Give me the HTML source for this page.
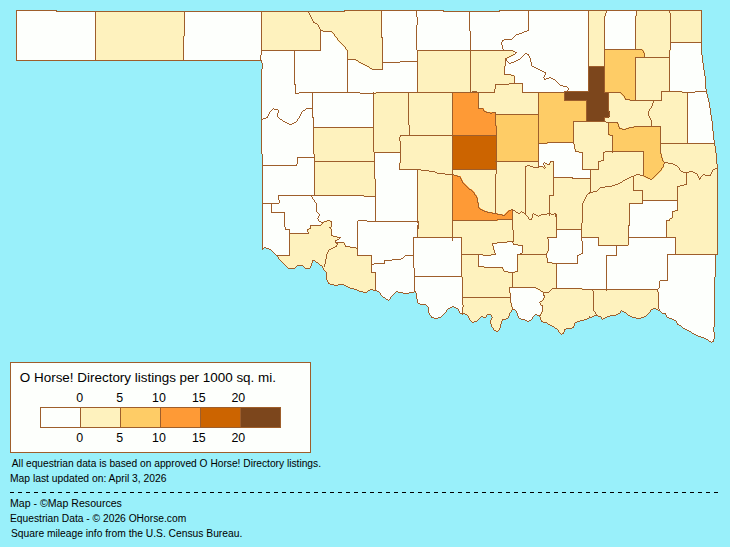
<!DOCTYPE html>
<html><head><meta charset="utf-8"><title>Oklahoma - O Horse! Directory listings</title><style>
html,body{margin:0;padding:0;background:#99F0FA;width:730px;height:547px;overflow:hidden}
svg{display:block;font-family:"Liberation Sans",sans-serif}
</style></head><body>
<svg width="730" height="547" viewBox="0 0 730 547">
<g shape-rendering="crispEdges"><path fill="#FDFFFC" d="M16 10h41v1h-41zM344 10h100v1h-100zM499 10h203v1h-203zM16 11h686v44h-686zM16 55h687v6h-687zM261 61h442v2h-442zM262 63h442v6h-442zM261 69h443v1h-443zM261 70h444v6h-444zM261 76h445v13h-445zM261 89h446v5h-446zM261 94h447v4h-447zM261 98h448v4h-448zM261 102h449v6h-449zM261 108h450v7h-450zM261 115h451v6h-451zM261 121h452v10h-452zM261 131h453v9h-453zM261 140h454v6h-454zM261 146h455v7h-455zM261 153h456v1h-456zM262 154h455v10h-455zM262 164h456v84h-456zM262 248h2v1h-2zM266 248h452v1h-452zM262 249h1v1h-1zM269 249h449v1h-449zM271 250h447v1h-447zM272 251h446v1h-446zM273 252h445v1h-445zM274 253h444v1h-444zM275 254h443v1h-443zM276 255h440v1h-440zM277 256h439v1h-439zM278 257h438v2h-438zM279 259h437v1h-437zM280 260h436v1h-436zM281 261h32v1h-32zM315 261h401v1h-401zM282 262h31v1h-31zM316 262h400v1h-400zM283 263h29v1h-29zM318 263h398v1h-398zM284 264h28v1h-28zM319 264h397v1h-397zM285 265h27v1h-27zM320 265h396v1h-396zM286 266h11v1h-11zM303 266h8v1h-8zM322 266h394v2h-394zM287 267h9v1h-9zM304 267h7v1h-7zM288 268h7v1h-7zM305 268h5v1h-5zM323 268h393v2h-393zM324 270h392v1h-392zM325 271h391v1h-391zM326 272h390v5h-390zM326 277h389v3h-389zM327 280h388v2h-388zM328 282h387v2h-387zM330 284h385v1h-385zM334 285h4v1h-4zM344 285h371v1h-371zM346 286h369v1h-369zM348 287h367v1h-367zM350 288h365v1h-365zM354 289h361v1h-361zM357 290h13v1h-13zM373 290h342v1h-342zM359 291h9v1h-9zM377 291h338v1h-338zM363 292h4v1h-4zM379 292h17v1h-17zM398 292h16v1h-16zM415 292h300v1h-300zM380 293h15v1h-15zM403 293h6v1h-6zM416 293h299v6h-299zM380 294h14v1h-14zM381 295h12v1h-12zM382 296h10v1h-10zM383 297h8v1h-8zM385 298h6v1h-6zM386 299h4v1h-4zM417 299h298v4h-298zM388 300h1v1h-1zM418 303h297v1h-297zM420 304h295v1h-295zM426 305h289v1h-289zM427 306h288v1h-288zM428 307h24v1h-24zM454 307h261v1h-261zM428 308h22v1h-22zM456 308h259v1h-259zM428 309h20v1h-20zM458 309h195v1h-195zM656 309h59v1h-59zM428 310h19v2h-19zM458 310h54v1h-54zM515 310h136v1h-136zM658 310h57v1h-57zM459 311h53v1h-53zM516 311h105v2h-105zM622 311h29v1h-29zM660 311h55v1h-55zM428 312h18v1h-18zM459 312h52v1h-52zM624 312h26v1h-26zM661 312h54v1h-54zM429 313h16v1h-16zM460 313h50v1h-50zM517 313h103v1h-103zM626 313h23v1h-23zM662 313h53v1h-53zM429 314h15v1h-15zM462 314h1v1h-1zM465 314h45v1h-45zM517 314h101v1h-101zM627 314h21v1h-21zM665 314h50v1h-50zM430 315h13v1h-13zM467 315h20v1h-20zM491 315h19v1h-19zM517 315h18v1h-18zM537 315h79v1h-79zM628 315h19v1h-19zM666 315h49v2h-49zM431 316h11v1h-11zM468 316h19v1h-19zM491 316h18v1h-18zM518 316h16v1h-16zM539 316h55v1h-55zM598 316h12v1h-12zM630 316h16v1h-16zM431 317h10v1h-10zM468 317h13v1h-13zM483 317h3v1h-3zM492 317h17v1h-17zM518 317h15v1h-15zM540 317h52v1h-52zM601 317h6v1h-6zM632 317h12v1h-12zM667 317h48v1h-48zM434 318h4v1h-4zM469 318h11v1h-11zM491 318h17v1h-17zM519 318h14v1h-14zM540 318h49v1h-49zM601 318h4v1h-4zM636 318h5v1h-5zM669 318h46v1h-46zM469 319h10v1h-10zM491 319h15v1h-15zM521 319h11v1h-11zM540 319h47v1h-47zM602 319h1v1h-1zM672 319h43v1h-43zM470 320h8v1h-8zM490 320h13v1h-13zM525 320h6v1h-6zM541 320h43v1h-43zM674 320h41v1h-41zM471 321h6v1h-6zM490 321h12v3h-12zM527 321h2v1h-2zM541 321h39v1h-39zM676 321h39v2h-39zM472 322h2v1h-2zM543 322h34v1h-34zM547 323h28v1h-28zM677 323h38v2h-38zM491 324h10v3h-10zM548 324h27v1h-27zM550 325h25v1h-25zM679 325h36v1h-36zM552 326h22v1h-22zM681 326h34v1h-34zM492 327h9v1h-9zM554 327h20v1h-20zM682 327h32v1h-32zM493 328h7v2h-7zM555 328h17v1h-17zM683 328h31v1h-31zM557 329h9v1h-9zM685 329h29v1h-29zM494 330h5v1h-5zM558 330h7v2h-7zM687 330h27v1h-27zM496 331h2v1h-2zM689 331h25v1h-25zM559 332h5v1h-5zM691 332h24v1h-24zM560 333h4v1h-4zM692 333h23v1h-23zM561 334h1v1h-1zM694 334h21v1h-21zM696 335h19v1h-19zM698 336h17v1h-17zM701 337h14v1h-14zM704 338h11v1h-11zM706 339h8v1h-8zM708 340h6v1h-6zM709 341h5v1h-5zM711 342h1v1h-1z"/><path fill="#FEF2BE" d="M344 10h38v1h-38zM588 10h18v7h-18zM636 10h66v5h-66zM95 11h90v26h-90zM261 11h121v20h-121zM635 15h67v28h-67zM588 17h17v50h-17zM261 31h60v20h-60zM322 31h60v1h-60zM331 32h51v1h-51zM332 33h50v1h-50zM333 34h49v1h-49zM334 35h48v2h-48zM95 37h89v24h-89zM335 37h48v1h-48zM336 38h47v1h-47zM337 39h46v2h-46zM338 41h45v1h-45zM339 42h44v1h-44zM340 43h43v1h-43zM635 43h36v7h-36zM341 44h42v1h-42zM342 45h41v1h-41zM343 46h40v1h-40zM344 47h39v1h-39zM345 48h38v2h-38zM346 50h37v1h-37zM417 50h97v6h-97zM641 50h30v1h-30zM347 51h36v9h-36zM642 51h28v1h-28zM643 52h27v2h-27zM644 54h26v3h-26zM417 56h95v1h-95zM417 57h93v1h-93zM635 57h35v34h-35zM417 58h91v1h-91zM417 59h89v8h-89zM355 60h28v1h-28zM357 61h26v1h-26zM358 62h25v1h-25zM360 63h23v1h-23zM362 64h21v1h-21zM364 65h19v1h-19zM366 66h17v1h-17zM368 67h15v1h-15zM417 67h88v7h-88zM369 68h14v1h-14zM371 69h12v1h-12zM417 74h95v1h-95zM417 75h98v8h-98zM417 83h106v9h-106zM635 91h48v1h-48zM375 92h96v1h-96zM476 92h63v1h-63zM608 92h14v1h-14zM635 92h53v8h-53zM373 93h80v34h-80zM478 93h61v16h-61zM608 93h15v1h-15zM608 94h16v1h-16zM608 95h17v2h-17zM608 97h18v2h-18zM608 99h23v1h-23zM608 100h80v13h-80zM482 109h57v1h-57zM483 110h56v2h-56zM485 112h54v1h-54zM495 113h44v2h-44zM609 113h79v2h-79zM608 115h80v1h-80zM607 116h81v1h-81zM604 117h84v4h-84zM573 121h115v2h-115zM573 123h36v11h-36zM617 123h71v2h-71zM618 125h70v2h-70zM313 127h140v26h-140zM618 127h17v1h-17zM660 127h28v16h-28zM619 128h11v1h-11zM621 129h6v1h-6zM573 134h38v1h-38zM573 135h40v10h-40zM660 143h55v3h-55zM574 145h39v5h-39zM660 146h56v7h-56zM575 150h38v1h-38zM575 151h69v1h-69zM578 152h66v1h-66zM313 153h62v2h-62zM400 153h53v9h-53zM582 153h62v17h-62zM660 153h57v2h-57zM314 155h61v23h-61zM661 155h56v4h-56zM662 159h55v3h-55zM496 161h43v5h-43zM399 162h54v7h-54zM549 162h5v2h-5zM663 162h54v2h-54zM545 164h9v3h-9zM663 164h55v2h-55zM496 166h48v1h-48zM662 166h56v1h-56zM496 167h58v2h-58zM661 167h57v2h-57zM399 169h155v1h-155zM660 169h58v1h-58zM417 170h137v6h-137zM590 170h54v5h-54zM659 170h59v1h-59zM658 171h60v1h-60zM657 172h61v1h-61zM656 173h62v1h-62zM655 174h63v1h-63zM590 175h55v1h-55zM654 175h64v1h-64zM417 176h36v44h-36zM456 176h98v1h-98zM590 176h57v1h-57zM653 176h65v1h-65zM459 177h114v1h-114zM590 177h59v1h-59zM652 177h66v1h-66zM314 178h62v18h-62zM460 178h258v2h-258zM461 180h257v2h-257zM462 182h256v2h-256zM463 184h255v1h-255zM464 185h254v1h-254zM465 186h253v1h-253zM466 187h252v1h-252zM467 188h251v1h-251zM468 189h250v1h-250zM470 190h248v1h-248zM471 191h247v1h-247zM472 192h246v1h-246zM473 193h245v1h-245zM474 194h244v2h-244zM363 196h13v1h-13zM475 196h243v1h-243zM476 197h242v2h-242zM477 199h241v2h-241zM477 201h166v3h-166zM677 201h41v9h-41zM478 204h152v5h-152zM479 209h151v1h-151zM481 210h149v1h-149zM674 210h44v1h-44zM483 211h27v1h-27zM512 211h118v8h-118zM672 211h46v6h-46zM486 212h23v1h-23zM491 213h17v1h-17zM496 214h11v1h-11zM501 215h5v1h-5zM671 217h47v1h-47zM669 218h49v2h-49zM496 219h134v1h-134zM326 220h5v1h-5zM417 220h213v2h-213zM666 220h52v18h-52zM323 221h9v1h-9zM322 222h10v1h-10zM418 222h212v4h-212zM321 223h11v1h-11zM320 224h12v1h-12zM310 225h22v3h-22zM418 226h211v2h-211zM308 228h24v5h-24zM417 228h212v2h-212zM417 230h140v8h-140zM581 230h48v8h-48zM289 233h43v2h-43zM289 235h45v1h-45zM289 236h49v5h-49zM461 238h88v4h-88zM598 238h31v8h-31zM675 238h43v17h-43zM289 241h47v1h-47zM289 242h56v2h-56zM461 242h47v1h-47zM513 242h36v3h-36zM461 243h37v1h-37zM289 244h57v2h-57zM461 244h32v1h-32zM461 245h33v4h-33zM517 245h32v1h-32zM289 246h62v1h-62zM522 246h27v6h-27zM289 247h68v1h-68zM289 248h69v7h-69zM461 249h34v6h-34zM522 252h26v2h-26zM517 254h30v3h-30zM278 255h94v4h-94zM461 255h18v11h-18zM482 255h10v1h-10zM517 257h31v5h-31zM279 259h93v1h-93zM280 260h92v1h-92zM281 261h32v1h-32zM315 261h57v1h-57zM282 262h31v1h-31zM316 262h56v1h-56zM517 262h36v1h-36zM283 263h29v1h-29zM318 263h54v1h-54zM517 263h40v8h-40zM284 264h28v1h-28zM319 264h53v1h-53zM285 265h27v1h-27zM320 265h52v1h-52zM286 266h11v1h-11zM303 266h8v1h-8zM323 266h49v4h-49zM461 266h24v1h-24zM287 267h9v1h-9zM304 267h7v1h-7zM461 267h42v1h-42zM288 268h7v1h-7zM305 268h5v1h-5zM461 268h43v2h-43zM324 270h48v1h-48zM461 270h44v1h-44zM325 271h47v1h-47zM461 271h48v1h-48zM514 271h43v1h-43zM326 272h50v8h-50zM461 272h96v6h-96zM462 278h95v10h-95zM327 280h49v2h-49zM328 282h48v2h-48zM330 284h46v1h-46zM334 285h4v1h-4zM344 285h32v1h-32zM346 286h30v1h-30zM348 287h28v1h-28zM350 288h26v1h-26zM462 288h48v4h-48zM535 288h48v1h-48zM354 289h22v1h-22zM537 289h121v1h-121zM357 290h13v1h-13zM539 290h119v1h-119zM359 291h9v1h-9zM540 291h119v1h-119zM363 292h4v1h-4zM462 292h49v10h-49zM542 292h117v1h-117zM544 293h115v4h-115zM543 297h116v2h-116zM542 299h117v1h-117zM541 300h118v1h-118zM540 301h119v5h-119zM462 302h50v4h-50zM462 306h51v4h-51zM542 306h117v3h-117zM542 309h111v1h-111zM462 310h50v2h-50zM542 310h109v1h-109zM541 311h80v2h-80zM622 311h29v1h-29zM462 312h49v1h-49zM624 312h26v1h-26zM462 313h48v1h-48zM540 313h80v1h-80zM626 313h23v1h-23zM465 314h45v1h-45zM540 314h78v1h-78zM627 314h21v1h-21zM467 315h20v1h-20zM491 315h19v1h-19zM540 315h76v1h-76zM628 315h19v1h-19zM468 316h19v1h-19zM491 316h18v1h-18zM540 316h54v1h-54zM598 316h12v1h-12zM630 316h16v1h-16zM468 317h13v1h-13zM483 317h3v1h-3zM492 317h17v1h-17zM540 317h50v1h-50zM601 317h6v1h-6zM632 317h12v1h-12zM469 318h11v1h-11zM491 318h17v1h-17zM540 318h49v1h-49zM601 318h4v1h-4zM636 318h5v1h-5zM469 319h10v1h-10zM491 319h15v1h-15zM540 319h47v1h-47zM470 320h8v1h-8zM490 320h13v1h-13zM541 320h43v1h-43zM471 321h6v1h-6zM490 321h12v3h-12zM541 321h39v1h-39zM543 322h34v1h-34zM547 323h28v1h-28zM491 324h10v3h-10zM548 324h27v1h-27zM550 325h25v1h-25zM552 326h22v1h-22zM492 327h9v1h-9zM554 327h20v1h-20zM493 328h7v2h-7zM555 328h17v1h-17zM557 329h9v1h-9zM494 330h5v1h-5zM558 330h7v2h-7zM559 332h5v1h-5zM560 333h4v1h-4z"/><path fill="#FECC66" d="M604 49h39v1h-39zM604 50h40v2h-40zM604 52h41v6h-41zM604 58h32v35h-32zM538 92h27v8h-27zM620 93h16v1h-16zM621 94h15v1h-15zM622 95h14v1h-14zM623 96h13v1h-13zM624 97h12v2h-12zM625 99h11v1h-11zM538 100h49v14h-49zM629 100h7v1h-7zM495 114h92v8h-92zM495 122h79v5h-79zM608 122h10v1h-10zM608 123h11v3h-11zM608 126h12v2h-12zM633 126h28v1h-28zM496 127h78v16h-78zM628 127h33v1h-33zM608 128h15v1h-15zM625 128h36v1h-36zM608 129h53v6h-53zM609 135h52v1h-52zM612 136h49v16h-49zM496 143h52v1h-52zM496 144h43v18h-43zM643 152h18v1h-18zM643 153h19v4h-19zM643 157h20v3h-20zM643 160h21v8h-21zM643 168h20v1h-20zM643 169h19v2h-19zM643 171h18v1h-18zM643 172h17v1h-17zM643 173h16v1h-16zM643 174h15v1h-15zM643 175h14v1h-14zM643 176h13v1h-13zM645 177h10v1h-10zM647 178h7v1h-7z"/><path fill="#FE9A36" d="M452 92h27v16h-27zM452 108h32v2h-32zM452 110h33v1h-33zM452 111h35v1h-35zM452 112h44v13h-44zM452 125h45v11h-45zM452 175h6v1h-6zM452 176h9v2h-9zM452 178h10v2h-10zM452 180h11v2h-11zM452 182h12v1h-12zM452 183h13v1h-13zM452 184h14v1h-14zM452 185h15v1h-15zM452 186h16v1h-16zM452 187h17v1h-17zM452 188h18v1h-18zM452 189h20v1h-20zM452 190h21v1h-21zM452 191h22v1h-22zM452 192h23v2h-23zM452 194h24v1h-24zM452 195h25v2h-25zM452 197h26v5h-26zM452 202h27v5h-27zM452 207h28v1h-28zM452 208h29v1h-29zM452 209h31v1h-31zM452 210h33v1h-33zM508 210h5v1h-5zM452 211h36v1h-36zM507 211h6v1h-6zM452 212h41v1h-41zM506 212h7v1h-7zM452 213h46v1h-46zM505 213h8v1h-8zM452 214h51v1h-51zM504 214h9v1h-9zM452 215h61v5h-61zM452 220h46v1h-46z"/><path fill="#CC6400" d="M452 135h45v35h-45z"/><path fill="#7C461C" d="M588 66h17v25h-17zM564 91h41v1h-41zM564 92h45v9h-45zM586 101h23v10h-23zM586 111h24v6h-24zM586 117h23v1h-23zM586 118h19v4h-19z"/><path fill="#9E5E2B" d="M16 10h41v1h-41zM344 10h100v1h-100zM499 10h203v1h-203zM16 11h1v49h-1zM56 11h289v1h-289zM381 11h1v26h-1zM416 11h1v6h-1zM443 11h57v1h-57zM528 11h1v19h-1zM588 11h1v55h-1zM606 11h1v2h-1zM636 11h1v5h-1zM669 11h1v2h-1zM701 11h1v31h-1zM95 12h1v48h-1zM184 12h1v24h-1zM261 12h1v38h-1zM308 12h1v1h-1zM469 12h1v19h-1zM309 13h1v2h-1zM605 13h1v3h-1zM670 13h1v29h-1zM310 15h1v2h-1zM604 16h1v33h-1zM635 16h1v33h-1zM311 17h1v2h-1zM417 17h1v8h-1zM312 19h1v2h-1zM313 21h1v1h-1zM313 22h2v1h-2zM315 23h2v1h-2zM317 24h1v1h-1zM318 25h1v2h-1zM416 25h1v25h-1zM319 27h1v2h-1zM320 29h1v1h-1zM320 30h3v1h-3zM527 30h2v1h-2zM320 31h1v19h-1zM323 31h9v1h-9zM470 31h1v19h-1zM524 31h3v1h-3zM332 32h1v1h-1zM522 32h2v1h-2zM333 33h1v1h-1zM519 33h3v1h-3zM334 34h1v2h-1zM516 34h3v1h-3zM515 35h1v1h-1zM183 36h1v24h-1zM335 36h1v1h-1zM514 36h1v1h-1zM336 37h1v1h-1zM381 37h2v1h-2zM513 37h1v1h-1zM337 38h1v2h-1zM382 38h1v24h-1zM512 38h1v1h-1zM504 39h8v1h-8zM338 40h1v1h-1zM502 40h2v1h-2zM339 41h1v1h-1zM502 41h1v1h-1zM340 42h1v1h-1zM501 42h1v3h-1zM670 42h32v1h-32zM341 43h1v1h-1zM670 43h1v7h-1zM701 43h1v12h-1zM342 44h1v1h-1zM343 45h1v1h-1zM502 45h1v4h-1zM344 46h1v1h-1zM345 47h1v2h-1zM346 49h1v1h-1zM503 49h1v1h-1zM604 49h38v1h-38zM261 50h60v1h-60zM347 50h1v9h-1zM417 50h96v1h-96zM604 50h1v16h-1zM642 50h1v1h-1zM669 50h1v7h-1zM261 51h1v4h-1zM294 51h1v33h-1zM417 51h1v10h-1zM470 51h1v41h-1zM513 51h2v1h-2zM643 51h1v2h-1zM515 52h2v1h-2zM515 53h1v1h-1zM525 53h2v1h-2zM644 53h1v4h-1zM513 54h2v1h-2zM524 54h1v1h-1zM527 54h2v1h-2zM260 55h1v5h-1zM511 55h2v1h-2zM523 55h1v1h-1zM528 55h1v1h-1zM702 55h1v8h-1zM509 56h2v1h-2zM522 56h1v1h-1zM529 56h1v2h-1zM507 57h2v1h-2zM521 57h1v1h-1zM635 57h35v1h-35zM505 58h2v3h-2zM520 58h1v1h-1zM530 58h1v4h-1zM635 58h1v42h-1zM669 58h1v33h-1zM347 59h9v1h-9zM518 59h2v1h-2zM16 60h246v1h-246zM347 60h1v32h-1zM356 60h2v1h-2zM516 60h2v1h-2zM261 61h1v2h-1zM358 61h1v1h-1zM400 61h18v1h-18zM505 61h1v5h-1zM507 61h1v1h-1zM514 61h2v1h-2zM359 62h2v1h-2zM382 62h18v1h-18zM417 62h1v30h-1zM508 62h1v1h-1zM511 62h3v1h-3zM531 62h1v4h-1zM262 63h1v6h-1zM361 63h2v1h-2zM382 63h1v6h-1zM509 63h2v1h-2zM703 63h1v7h-1zM363 64h2v1h-2zM365 65h2v1h-2zM367 66h2v1h-2zM504 66h1v8h-1zM532 66h2v1h-2zM588 66h17v1h-17zM369 67h1v1h-1zM534 67h2v1h-2zM588 67h1v24h-1zM604 67h1v25h-1zM370 68h2v1h-2zM536 68h2v1h-2zM261 69h1v50h-1zM372 69h11v1h-11zM538 69h2v1h-2zM540 70h2v1h-2zM704 70h1v6h-1zM542 71h2v1h-2zM544 72h2v1h-2zM545 73h1v2h-1zM504 74h7v1h-7zM511 75h3v1h-3zM544 75h1v2h-1zM514 76h1v7h-1zM705 76h1v13h-1zM543 77h1v1h-1zM549 77h2v1h-2zM544 78h1v1h-1zM546 78h3v1h-3zM551 78h2v1h-2zM544 79h2v1h-2zM553 79h2v1h-2zM555 80h1v1h-1zM556 81h1v1h-1zM557 82h1v1h-1zM509 83h14v1h-14zM558 83h1v1h-1zM294 84h2v1h-2zM495 84h14v1h-14zM522 84h1v8h-1zM559 84h1v1h-1zM295 85h1v8h-1zM495 85h1v4h-1zM560 85h3v1h-3zM563 86h4v1h-4zM567 87h1v1h-1zM568 88h1v2h-1zM494 89h1v3h-1zM706 89h1v2h-1zM567 90h1v1h-1zM472 91h5v1h-5zM564 91h25v1h-25zM661 91h21v1h-21zM695 91h12v1h-12zM299 92h61v1h-61zM373 92h1v1h-1zM376 92h119v1h-119zM522 92h43v1h-43zM604 92h17v1h-17zM661 92h1v8h-1zM682 92h13v1h-13zM706 92h1v2h-1zM295 93h4v1h-4zM312 93h1v15h-1zM360 93h16v1h-16zM408 93h1v32h-1zM452 93h1v42h-1zM478 93h1v15h-1zM538 93h1v21h-1zM564 93h1v7h-1zM608 93h1v19h-1zM621 93h1v1h-1zM687 93h1v50h-1zM373 94h1v33h-1zM622 94h1v1h-1zM707 94h1v4h-1zM623 95h1v1h-1zM624 96h1v2h-1zM625 98h1v1h-1zM708 98h1v4h-1zM625 99h5v1h-5zM564 100h23v1h-23zM630 100h32v1h-32zM586 101h1v20h-1zM653 101h1v2h-1zM709 102h1v6h-1zM652 103h1v3h-1zM651 106h1v2h-1zM273 108h1v1h-1zM306 108h7v1h-7zM478 108h5v1h-5zM650 108h1v1h-1zM710 108h1v7h-1zM272 109h1v1h-1zM274 109h4v1h-4zM305 109h1v1h-1zM312 109h1v8h-1zM483 109h1v2h-1zM649 109h1v2h-1zM271 110h1v1h-1zM278 110h1v3h-1zM303 110h2v1h-2zM270 111h1v1h-1zM302 111h1v1h-1zM484 111h2v1h-2zM648 111h1v5h-1zM269 112h1v2h-1zM301 112h1v2h-1zM486 112h4v1h-4zM492 112h4v1h-4zM609 112h1v4h-1zM277 113h1v4h-1zM490 113h2v1h-2zM495 113h1v1h-1zM268 114h1v2h-1zM300 114h1v2h-1zM495 114h44v1h-44zM495 115h1v11h-1zM538 115h1v28h-1zM711 115h1v6h-1zM267 116h1v1h-1zM299 116h1v2h-1zM608 116h1v1h-1zM649 116h1v2h-1zM266 117h2v1h-2zM278 117h1v1h-1zM312 117h2v1h-2zM604 117h4v1h-4zM263 118h3v1h-3zM279 118h1v1h-1zM298 118h1v1h-1zM313 118h1v9h-1zM604 118h1v3h-1zM650 118h1v2h-1zM261 119h2v1h-2zM280 119h2v1h-2zM297 119h1v2h-1zM261 120h1v34h-1zM282 120h1v1h-1zM651 120h1v6h-1zM283 121h2v1h-2zM296 121h1v1h-1zM573 121h33v1h-33zM712 121h1v10h-1zM285 122h2v1h-2zM294 122h2v1h-2zM573 122h1v20h-1zM606 122h12v1h-12zM287 123h2v1h-2zM292 123h2v1h-2zM608 123h1v11h-1zM617 123h1v1h-1zM289 124h3v1h-3zM618 124h1v3h-1zM409 125h1v10h-1zM496 126h1v9h-1zM634 126h27v1h-27zM313 127h61v1h-61zM619 127h1v1h-1zM629 127h5v1h-5zM660 127h1v16h-1zM313 128h1v26h-1zM373 128h1v24h-1zM619 128h3v1h-3zM626 128h3v1h-3zM622 129h4v1h-4zM713 131h1v9h-1zM608 134h2v1h-2zM400 135h97v1h-97zM610 135h3v1h-3zM400 136h1v1h-1zM452 136h1v33h-1zM496 136h1v25h-1zM612 136h1v15h-1zM399 137h1v4h-1zM714 140h1v3h-1zM400 141h1v11h-1zM547 142h27v1h-27zM538 143h9v1h-9zM573 143h1v1h-1zM660 143h55v1h-55zM538 144h1v17h-1zM574 144h1v5h-1zM660 144h1v10h-1zM714 144h1v2h-1zM715 146h1v7h-1zM575 149h1v2h-1zM575 151h4v1h-4zM605 151h39v1h-39zM374 152h27v1h-27zM579 152h4v1h-4zM603 152h2v1h-2zM612 152h1v1h-1zM643 152h1v23h-1zM374 153h1v8h-1zM400 153h1v10h-1zM582 153h1v16h-1zM603 153h1v7h-1zM716 153h1v11h-1zM262 154h1v11h-1zM314 154h1v3h-1zM661 154h1v4h-1zM297 157h18v1h-18zM297 158h1v6h-1zM314 158h1v3h-1zM662 158h1v3h-1zM601 160h3v1h-3zM314 161h61v1h-61zM495 161h44v1h-44zM550 161h4v1h-4zM598 161h3v1h-3zM663 161h1v1h-1zM314 162h1v33h-1zM374 162h1v17h-1zM496 162h1v7h-1zM538 162h1v4h-1zM544 162h1v1h-1zM550 162h1v1h-1zM553 162h1v15h-1zM598 162h1v7h-1zM664 162h4v1h-4zM399 163h1v6h-1zM543 163h1v2h-1zM545 163h2v1h-2zM549 163h1v1h-1zM664 163h1v1h-1zM668 163h5v1h-5zM296 164h1v1h-1zM547 164h3v1h-3zM663 164h1v3h-1zM673 164h2v1h-2zM717 164h1v4h-1zM262 165h35v1h-35zM527 165h3v1h-3zM544 165h1v2h-1zM675 165h2v1h-2zM262 166h1v37h-1zM525 166h2v1h-2zM530 166h3v1h-3zM538 166h5v1h-5zM677 166h1v1h-1zM525 167h1v46h-1zM533 167h6v1h-6zM543 167h1v1h-1zM545 167h1v1h-1zM662 167h1v1h-1zM678 167h1v1h-1zM544 168h1v1h-1zM661 168h1v2h-1zM679 168h1v2h-1zM715 168h3v1h-3zM399 169h22v1h-22zM452 169h45v1h-45zM582 169h17v1h-17zM713 169h2v1h-2zM717 169h1v85h-1zM417 170h1v51h-1zM421 170h8v1h-8zM452 170h1v4h-1zM496 170h1v4h-1zM590 170h1v8h-1zM660 170h1v1h-1zM680 170h1v1h-1zM712 170h1v2h-1zM429 171h6v1h-6zM659 171h1v1h-1zM681 171h2v1h-2zM689 171h4v1h-4zM435 172h2v1h-2zM658 172h1v1h-1zM683 172h6v1h-6zM693 172h2v1h-2zM711 172h1v2h-1zM437 173h8v1h-8zM657 173h1v1h-1zM686 173h1v11h-1zM695 173h2v1h-2zM445 174h9v1h-9zM495 174h1v39h-1zM636 174h4v1h-4zM656 174h1v1h-1zM697 174h1v2h-1zM703 174h2v1h-2zM710 174h1v1h-1zM452 175h1v45h-1zM454 175h3v1h-3zM634 175h2v1h-2zM640 175h4v1h-4zM655 175h1v1h-1zM702 175h1v1h-1zM705 175h6v1h-6zM457 176h3v1h-3zM631 176h3v1h-3zM644 176h2v1h-2zM654 176h1v1h-1zM698 176h1v2h-1zM701 176h1v1h-1zM460 177h1v2h-1zM553 177h20v1h-20zM629 177h2v1h-2zM633 177h1v13h-1zM646 177h2v1h-2zM653 177h1v1h-1zM700 177h1v1h-1zM553 178h1v17h-1zM572 178h19v1h-19zM627 178h2v1h-2zM648 178h2v1h-2zM652 178h1v1h-1zM699 178h2v1h-2zM375 179h1v17h-1zM461 179h1v2h-1zM590 179h1v13h-1zM625 179h2v1h-2zM650 179h2v1h-2zM699 179h1v1h-1zM623 180h2v1h-2zM462 181h1v2h-1zM622 181h1v1h-1zM620 182h2v1h-2zM463 183h1v1h-1zM618 183h2v1h-2zM464 184h1v1h-1zM615 184h3v1h-3zM684 184h3v1h-3zM465 185h1v1h-1zM612 185h3v1h-3zM680 185h4v1h-4zM466 186h1v1h-1zM605 186h7v1h-7zM677 186h3v1h-3zM467 187h1v1h-1zM600 187h5v1h-5zM677 187h1v13h-1zM468 188h1v1h-1zM599 188h1v1h-1zM469 189h2v1h-2zM598 189h1v1h-1zM471 190h1v1h-1zM597 190h1v1h-1zM633 190h10v1h-10zM472 191h1v1h-1zM593 191h4v1h-4zM642 191h1v9h-1zM473 192h1v1h-1zM589 192h4v1h-4zM474 193h1v2h-1zM588 193h2v1h-2zM587 194h1v1h-1zM278 195h86v1h-86zM475 195h1v1h-1zM549 195h5v1h-5zM586 195h1v2h-1zM278 196h1v4h-1zM311 196h1v1h-1zM364 196h12v1h-12zM476 196h1v2h-1zM549 196h1v17h-1zM312 197h1v2h-1zM375 197h1v24h-1zM585 197h1v2h-1zM477 198h1v5h-1zM313 199h1v1h-1zM584 199h1v2h-1zM279 200h1v3h-1zM314 200h1v2h-1zM642 200h36v1h-36zM583 201h1v2h-1zM642 201h1v2h-1zM677 201h1v9h-1zM315 202h1v1h-1zM262 203h17v1h-17zM316 203h1v9h-1zM478 203h1v5h-1zM582 203h1v20h-1zM629 203h14v1h-14zM262 204h1v44h-1zM271 204h1v8h-1zM629 204h1v21h-1zM479 208h1v1h-1zM480 209h2v1h-2zM511 209h2v1h-2zM482 210h2v1h-2zM509 210h2v1h-2zM512 210h3v1h-3zM675 210h3v1h-3zM484 211h3v1h-3zM508 211h1v1h-1zM512 211h1v8h-1zM515 211h1v1h-1zM521 211h1v1h-1zM672 211h3v1h-3zM271 212h14v1h-14zM317 212h1v1h-1zM487 212h5v1h-5zM507 212h1v1h-1zM516 212h2v1h-2zM520 212h1v1h-1zM522 212h2v1h-2zM672 212h1v6h-1zM284 213h1v14h-1zM318 213h1v1h-1zM492 213h5v1h-5zM506 213h1v1h-1zM518 213h2v1h-2zM524 213h2v1h-2zM533 213h1v1h-1zM547 213h4v1h-4zM554 213h2v1h-2zM319 214h1v2h-1zM497 214h5v1h-5zM505 214h1v1h-1zM525 214h1v1h-1zM532 214h1v4h-1zM534 214h2v1h-2zM541 214h6v1h-6zM549 214h1v2h-1zM551 214h3v1h-3zM555 214h2v3h-2zM502 215h3v1h-3zM526 215h1v1h-1zM536 215h2v1h-2zM539 215h2v1h-2zM318 216h1v2h-1zM527 216h1v1h-1zM538 216h1v1h-1zM528 217h1v2h-1zM556 217h1v12h-1zM317 218h1v1h-1zM531 218h1v1h-1zM670 218h2v1h-2zM318 219h1v2h-1zM497 219h16v1h-16zM529 219h3v1h-3zM669 219h1v1h-1zM327 220h3v1h-3zM358 220h9v1h-9zM452 220h45v1h-45zM512 220h1v10h-1zM666 220h4v1h-4zM319 221h2v1h-2zM324 221h3v1h-3zM330 221h2v1h-2zM357 221h1v27h-1zM367 221h52v1h-52zM452 221h1v16h-1zM666 221h1v16h-1zM321 222h3v1h-3zM331 222h1v5h-1zM417 222h2v1h-2zM322 223h1v1h-1zM418 223h1v2h-1zM581 223h1v6h-1zM321 224h1v1h-1zM310 225h11v1h-11zM417 225h2v4h-2zM628 225h2v1h-2zM310 226h1v2h-1zM628 226h1v11h-1zM285 227h1v2h-1zM329 227h2v1h-2zM309 228h2v1h-2zM330 228h1v1h-1zM285 229h5v1h-5zM307 229h2v1h-2zM331 229h1v6h-1zM417 229h1v8h-1zM556 229h26v1h-26zM289 230h1v3h-1zM307 230h1v2h-1zM513 230h1v11h-1zM556 230h1v7h-1zM581 230h1v7h-1zM308 232h1v1h-1zM289 233h20v1h-20zM289 234h1v21h-1zM331 235h2v1h-2zM333 236h4v1h-4zM337 237h4v1h-4zM413 237h49v1h-49zM547 237h10v1h-10zM581 237h18v1h-18zM628 237h48v1h-48zM339 238h1v1h-1zM413 238h1v17h-1zM452 238h1v3h-1zM461 238h1v16h-1zM547 238h1v1h-1zM581 238h1v3h-1zM598 238h1v7h-1zM628 238h1v7h-1zM675 238h1v16h-1zM337 239h2v1h-2zM548 239h1v12h-1zM335 240h2v1h-2zM335 241h1v1h-1zM507 241h7v1h-7zM582 241h1v12h-1zM335 242h9v1h-9zM497 242h10v1h-10zM512 242h1v1h-1zM336 243h2v1h-2zM344 243h1v2h-1zM492 243h5v1h-5zM513 243h1v1h-1zM337 244h1v1h-1zM492 244h1v2h-1zM513 244h5v1h-5zM336 245h1v1h-1zM345 245h1v1h-1zM518 245h5v1h-5zM598 245h30v1h-30zM335 246h2v1h-2zM345 246h5v1h-5zM493 246h1v4h-1zM522 246h1v7h-1zM616 246h1v9h-1zM264 247h2v1h-2zM333 247h2v1h-2zM350 247h6v1h-6zM262 248h2v1h-2zM266 248h3v1h-3zM331 248h2v1h-2zM356 248h2v1h-2zM262 249h1v1h-1zM269 249h2v1h-2zM329 249h2v1h-2zM357 249h1v6h-1zM271 250h1v1h-1zM328 250h1v2h-1zM494 250h1v3h-1zM272 251h1v1h-1zM547 251h1v2h-1zM273 252h1v1h-1zM327 252h1v2h-1zM274 253h1v1h-1zM495 253h1v1h-1zM520 253h2v1h-2zM546 253h1v1h-1zM581 253h2v1h-2zM275 254h1v1h-1zM326 254h1v5h-1zM461 254h22v1h-22zM491 254h5v1h-5zM517 254h30v1h-30zM579 254h2v1h-2zM667 254h51v1h-51zM276 255h14v1h-14zM357 255h15v1h-15zM405 255h9v1h-9zM461 255h1v21h-1zM478 255h1v11h-1zM483 255h8v1h-8zM517 255h1v16h-1zM546 255h1v3h-1zM577 255h2v1h-2zM606 255h11v1h-11zM667 255h1v25h-1zM715 255h1v22h-1zM277 256h1v1h-1zM371 256h1v8h-1zM404 256h1v1h-1zM413 256h1v12h-1zM577 256h1v7h-1zM606 256h1v33h-1zM278 257h1v2h-1zM403 257h1v1h-1zM401 258h2v1h-2zM547 258h1v4h-1zM279 259h1v1h-1zM325 259h1v5h-1zM392 259h9v1h-9zM280 260h1v1h-1zM312 260h3v1h-3zM384 260h8v1h-8zM281 261h1v1h-1zM312 261h1v2h-1zM315 261h1v1h-1zM384 261h1v2h-1zM282 262h1v1h-1zM316 262h2v1h-2zM547 262h5v1h-5zM283 263h1v1h-1zM311 263h1v3h-1zM318 263h1v1h-1zM374 263h11v1h-11zM552 263h26v1h-26zM284 264h1v1h-1zM319 264h1v1h-1zM324 264h1v3h-1zM371 264h3v1h-3zM556 264h1v24h-1zM285 265h1v1h-1zM297 265h6v1h-6zM320 265h2v1h-2zM371 265h1v7h-1zM286 266h1v1h-1zM296 266h1v1h-1zM303 266h1v1h-1zM310 266h1v2h-1zM322 266h1v2h-1zM478 266h6v1h-6zM287 267h1v1h-1zM295 267h1v1h-1zM304 267h1v1h-1zM484 267h19v1h-19zM288 268h7v1h-7zM305 268h5v1h-5zM323 268h1v2h-1zM414 268h1v8h-1zM502 268h1v1h-1zM503 269h1v2h-1zM324 270h1v1h-1zM325 271h1v1h-1zM504 271h4v1h-4zM515 271h3v1h-3zM326 272h1v8h-1zM371 272h5v1h-5zM508 272h7v1h-7zM375 273h1v17h-1zM512 273h1v14h-1zM414 276h48v1h-48zM414 277h1v14h-1zM462 277h1v20h-1zM714 277h1v50h-1zM327 280h1v2h-1zM660 280h8v1h-8zM659 281h1v7h-1zM328 282h1v1h-1zM328 283h2v1h-2zM330 284h4v1h-4zM338 284h6v1h-6zM334 285h4v1h-4zM344 285h2v1h-2zM346 286h2v1h-2zM348 287h2v1h-2zM509 287h27v1h-27zM350 288h4v1h-4zM509 288h1v5h-1zM536 288h2v1h-2zM552 288h30v1h-30zM658 288h1v1h-1zM354 289h3v1h-3zM370 289h3v1h-3zM538 289h2v1h-2zM551 289h1v1h-1zM582 289h76v1h-76zM357 290h2v1h-2zM368 290h2v1h-2zM373 290h4v1h-4zM540 290h1v1h-1zM550 290h1v1h-1zM592 290h1v1h-1zM606 290h1v1h-1zM657 290h1v2h-1zM359 291h4v1h-4zM367 291h1v1h-1zM377 291h2v1h-2zM396 291h2v1h-2zM414 291h2v1h-2zM541 291h2v1h-2zM549 291h1v1h-1zM593 291h1v20h-1zM363 292h4v1h-4zM379 292h1v1h-1zM395 292h1v1h-1zM398 292h5v1h-5zM409 292h5v1h-5zM415 292h1v1h-1zM543 292h6v1h-6zM658 292h1v17h-1zM380 293h1v2h-1zM394 293h1v1h-1zM403 293h6v1h-6zM416 293h1v6h-1zM510 293h1v4h-1zM543 293h1v2h-1zM393 294h1v1h-1zM381 295h1v1h-1zM392 295h1v1h-1zM543 295h2v1h-2zM382 296h1v1h-1zM391 296h1v1h-1zM544 296h1v2h-1zM383 297h2v1h-2zM390 297h1v2h-1zM462 297h49v1h-49zM385 298h1v1h-1zM462 298h1v7h-1zM510 298h1v5h-1zM543 298h1v2h-1zM386 299h2v1h-2zM389 299h1v1h-1zM417 299h1v4h-1zM388 300h1v1h-1zM542 300h1v1h-1zM540 301h2v1h-2zM539 302h1v1h-1zM418 303h2v1h-2zM511 303h1v4h-1zM540 303h1v2h-1zM420 304h6v1h-6zM426 305h1v1h-1zM463 305h1v2h-1zM541 305h2v1h-2zM427 306h1v1h-1zM452 306h2v1h-2zM542 306h1v6h-1zM428 307h1v6h-1zM450 307h2v1h-2zM454 307h2v1h-2zM462 307h1v6h-1zM512 307h1v2h-1zM448 308h2v1h-2zM456 308h2v1h-2zM653 308h3v1h-3zM447 309h1v1h-1zM458 309h1v2h-1zM512 309h3v1h-3zM651 309h2v1h-2zM656 309h2v1h-2zM659 309h1v1h-1zM446 310h1v2h-1zM511 310h1v2h-1zM515 310h1v1h-1zM621 310h1v1h-1zM650 310h1v2h-1zM658 310h2v1h-2zM459 311h1v2h-1zM516 311h1v2h-1zM594 311h1v1h-1zM620 311h1v2h-1zM622 311h2v1h-2zM660 311h1v1h-1zM445 312h1v1h-1zM510 312h1v1h-1zM541 312h1v2h-1zM595 312h1v2h-1zM624 312h2v1h-2zM649 312h1v1h-1zM661 312h1v1h-1zM429 313h1v2h-1zM444 313h1v1h-1zM460 313h5v1h-5zM509 313h1v3h-1zM517 313h1v3h-1zM618 313h2v1h-2zM626 313h1v1h-1zM648 313h1v1h-1zM662 313h4v1h-4zM443 314h1v1h-1zM462 314h1v1h-1zM465 314h2v1h-2zM487 314h4v1h-4zM535 314h2v1h-2zM540 314h1v1h-1zM596 314h1v1h-1zM616 314h2v1h-2zM627 314h1v1h-1zM647 314h1v1h-1zM665 314h1v1h-1zM430 315h1v1h-1zM442 315h1v1h-1zM467 315h1v1h-1zM486 315h1v2h-1zM491 315h1v2h-1zM534 315h1v1h-1zM537 315h4v1h-4zM594 315h4v1h-4zM610 315h6v1h-6zM628 315h2v1h-2zM646 315h1v1h-1zM666 315h1v2h-1zM431 316h1v1h-1zM441 316h1v1h-1zM468 316h1v2h-1zM481 316h2v1h-2zM508 316h1v2h-1zM518 316h1v2h-1zM533 316h1v1h-1zM539 316h1v1h-1zM589 316h1v1h-1zM592 316h2v1h-2zM598 316h3v1h-3zM607 316h3v1h-3zM630 316h2v1h-2zM644 316h2v1h-2zM431 317h3v1h-3zM438 317h3v1h-3zM480 317h1v1h-1zM483 317h3v1h-3zM492 317h1v1h-1zM532 317h1v2h-1zM540 317h1v3h-1zM589 317h3v1h-3zM601 317h1v2h-1zM605 317h2v1h-2zM632 317h4v1h-4zM641 317h3v1h-3zM667 317h2v1h-2zM434 318h4v1h-4zM469 318h1v2h-1zM479 318h1v1h-1zM491 318h1v2h-1zM506 318h2v1h-2zM519 318h2v1h-2zM587 318h2v1h-2zM603 318h2v1h-2zM636 318h5v1h-5zM669 318h3v1h-3zM478 319h1v1h-1zM502 319h4v1h-4zM521 319h4v1h-4zM531 319h1v1h-1zM584 319h3v1h-3zM602 319h1v1h-1zM672 319h2v1h-2zM470 320h1v1h-1zM477 320h1v1h-1zM490 320h1v4h-1zM502 320h1v1h-1zM525 320h2v1h-2zM529 320h2v1h-2zM541 320h1v1h-1zM580 320h4v1h-4zM674 320h2v1h-2zM471 321h1v1h-1zM474 321h3v1h-3zM501 321h1v3h-1zM527 321h2v1h-2zM541 321h2v1h-2zM577 321h3v1h-3zM676 321h1v2h-1zM472 322h2v1h-2zM543 322h4v1h-4zM575 322h2v1h-2zM547 323h1v1h-1zM574 323h1v3h-1zM677 323h1v1h-1zM491 324h1v3h-1zM500 324h1v4h-1zM548 324h2v1h-2zM677 324h2v1h-2zM550 325h2v1h-2zM679 325h2v1h-2zM552 326h2v1h-2zM573 326h1v1h-1zM681 326h1v1h-1zM492 327h1v1h-1zM554 327h1v1h-1zM572 327h2v1h-2zM682 327h1v1h-1zM713 327h1v5h-1zM493 328h1v2h-1zM499 328h1v2h-1zM555 328h2v1h-2zM566 328h6v1h-6zM683 328h2v1h-2zM557 329h1v1h-1zM564 329h2v1h-2zM685 329h2v1h-2zM494 330h2v1h-2zM498 330h1v1h-1zM558 330h1v2h-1zM564 330h1v2h-1zM687 330h2v1h-2zM496 331h2v1h-2zM689 331h2v1h-2zM559 332h1v1h-1zM563 332h1v1h-1zM691 332h1v1h-1zM714 332h1v7h-1zM560 333h1v1h-1zM562 333h2v1h-2zM692 333h2v1h-2zM561 334h1v1h-1zM694 334h2v1h-2zM696 335h2v1h-2zM698 336h3v1h-3zM701 337h3v1h-3zM704 338h2v1h-2zM706 339h2v1h-2zM713 339h1v2h-1zM708 340h1v1h-1zM709 341h2v1h-2zM712 341h2v1h-2zM711 342h1v1h-1z"/></g>
<rect x="10.5" y="362.5" width="300" height="90" fill="#FDFFFC" stroke="#9E5E2B" shape-rendering="crispEdges"/>
<g shape-rendering="crispEdges"><rect x="40.5" y="407.5" width="40" height="20" fill="#FDFFFC" stroke="#9E5E2B"/><rect x="80.5" y="407.5" width="40" height="20" fill="#FEF2BE" stroke="#9E5E2B"/><rect x="120.5" y="407.5" width="40" height="20" fill="#FECC66" stroke="#9E5E2B"/><rect x="160.5" y="407.5" width="40" height="20" fill="#FE9A36" stroke="#9E5E2B"/><rect x="200.5" y="407.5" width="40" height="20" fill="#CC6400" stroke="#9E5E2B"/><rect x="240.5" y="407.5" width="40" height="20" fill="#7C461C" stroke="#9E5E2B"/></g>
<g opacity="0.999" fill="#000">
<text transform="translate(19.80,381.7) scale(1.0095,1)" font-size="13.33">O Horse! Directory listings per 1000 sq. mi.</text>
<g font-size="12.4"><text x="79.7" y="401.6" text-anchor="middle">0</text><text x="79.7" y="442.2" text-anchor="middle">0</text><text x="119.7" y="401.6" text-anchor="middle">5</text><text x="119.7" y="442.2" text-anchor="middle">5</text><text x="158.9" y="401.6" text-anchor="middle">10</text><text x="158.9" y="442.2" text-anchor="middle">10</text><text x="198.8" y="401.6" text-anchor="middle">15</text><text x="198.8" y="442.2" text-anchor="middle">15</text><text x="238.3" y="401.6" text-anchor="middle">20</text><text x="238.3" y="442.2" text-anchor="middle">20</text></g>
<text transform="translate(11.80,467) scale(0.9463,1)" font-size="10.8">All equestrian data is based on approved O Horse! Directory listings.</text><text transform="translate(10.00,482) scale(0.9568,1)" font-size="10.8">Map last updated on: April 3, 2026</text><text transform="translate(10.00,507) scale(0.9806,1)" font-size="10.8">Map - &#169;Map Resources</text><text transform="translate(10.00,522) scale(0.9511,1)" font-size="10.8">Equestrian Data - &#169; 2026 OHorse.com</text><text transform="translate(11.00,537) scale(0.9529,1)" font-size="10.8">Square mileage info from the U.S. Census Bureau.</text>
</g>
<line x1="10" y1="492.5" x2="718" y2="492.5" stroke="#000" stroke-dasharray="4 4" shape-rendering="crispEdges"/>
</svg>
</body></html>
